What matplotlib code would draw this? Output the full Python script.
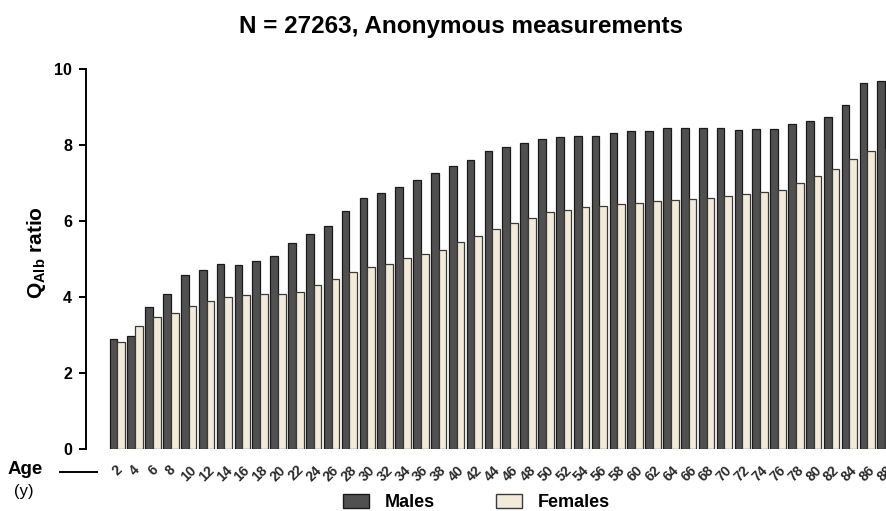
import numpy as np
import matplotlib
matplotlib.use("Agg")
import matplotlib.pyplot as plt
from matplotlib.patches import Patch

plt.rcParams['font.family'] = ['Liberation Sans', 'DejaVu Sans']
plt.rcParams['mathtext.fontset'] = 'custom'
plt.rcParams['mathtext.rm'] = 'Liberation Sans'
plt.rcParams['mathtext.bf'] = 'Liberation Sans:bold'

# age groups (years) and Q_Alb ratio
ages = list(range(2, 90, 2))
males = [2.89, 2.98, 3.74, 4.08, 4.58, 4.71, 4.87, 4.83, 4.96, 5.09,
         5.42, 5.67, 5.87, 6.27, 6.60, 6.75, 6.89, 7.09, 7.26, 7.44,
         7.60, 7.85, 7.96, 8.04, 8.17, 8.22, 8.25, 8.25, 8.31, 8.36,
         8.37, 8.44, 8.45, 8.44, 8.45, 8.40, 8.42, 8.42, 8.55, 8.63,
         8.75, 9.05, 9.62, 9.68]
females = [2.82, 3.24, 3.47, 3.57, 3.77, 3.89, 4.01, 4.04, 4.07, 4.07,
           4.14, 4.32, 4.47, 4.67, 4.78, 4.88, 5.03, 5.13, 5.25, 5.46,
           5.61, 5.79, 5.95, 6.07, 6.23, 6.30, 6.36, 6.40, 6.44, 6.48,
           6.52, 6.54, 6.58, 6.61, 6.65, 6.71, 6.76, 6.82, 7.00, 7.18,
           7.37, 7.63, 7.84, 7.89]

male_col = '#505050'
female_col = '#f2ebd9'

fig = plt.figure(figsize=(8.86, 5.11), dpi=100)
ax = fig.add_axes([86/886, 62/511, 1 - 86/886, 380/511])

x = np.arange(len(ages))
w = 0.43
ax.bar(x - w/2, males, w, color=male_col, edgecolor='#1a1a1a', linewidth=0.9)
ax.bar(x + w/2, females, w, color=female_col, edgecolor='#3a3a3a', linewidth=0.9)

ax.set_xlim(-1.75, 43.05)
ax.set_ylim(0, 10)
ax.set_yticks([0, 2, 4, 6, 8, 10])
ax.set_xticks(x)
ax.set_xticklabels([str(a) for a in ages], rotation=45, fontsize=10,
                   fontweight='bold', color='#2a2a2a')
ax.tick_params(axis='x', length=0, pad=10)
ax.tick_params(axis='y', length=5, width=1.4, direction='out', labelsize=11.5, pad=5)
for lab in ax.get_yticklabels():
    lab.set_fontweight('bold')

for s in ['top', 'right', 'bottom']:
    ax.spines[s].set_visible(False)
ax.spines['left'].set_linewidth(1.4)

fig.text(0.52, 0.949, 'N = 27263, Anonymous measurements', ha='center', va='center',
         fontsize=17.5, fontweight='bold')
fig.text(0.041, 0.505, r'$\mathbf{Q_{Alb}}$ ratio', rotation=90, ha='center', va='center',
         fontsize=15, fontweight='bold')

# age axis marker at bottom left
fig.text(25/886, 1 - 470/511, 'Age', ha='center', va='center', fontsize=13.5, fontweight='bold')
fig.text(24/886, 1 - 491/511, '(y)', ha='center', va='center', fontsize=12)
fig.add_artist(plt.Line2D([60/886, 97/886], [1 - 472/511, 1 - 472/511],
                          color='black', linewidth=1.4))

handles = [Patch(facecolor=male_col, edgecolor='#1a1a1a', label='Males'),
           Patch(facecolor=female_col, edgecolor='#3a3a3a', label='Females')]
leg = fig.legend(handles=handles, ncol=2, loc='center', bbox_to_anchor=(0.538, 0.017),
                 frameon=False, prop={'weight': 'bold', 'size': 13},
                 handlelength=1.4, handleheight=0.8, handletextpad=0.9,
                 columnspacing=3.4, borderpad=0, borderaxespad=0)

fig.savefig('out.png', dpi=100)
